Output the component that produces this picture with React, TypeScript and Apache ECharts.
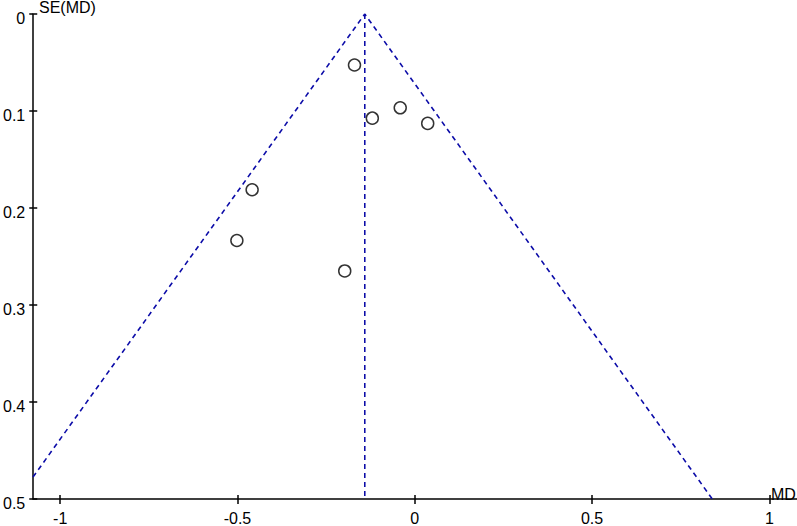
import React, { useEffect, useRef } from "react";
import * as echarts from "echarts";

// Study estimates (mean difference) and their standard errors
const studyMD: number[] = [-0.17, -0.1197, -0.041, 0.0365, -0.4587, -0.5017, -0.1975];
const studySE: number[] = [0.0526, 0.1074, 0.0967, 0.1128, 0.1812, 0.2335, 0.2649];
// Pooled estimate and funnel limits
const pooledMD = -0.141;
const seMax = 0.5;
const zCrit = 1.96;
const xTicks: number[] = [-1, -0.5, 0, 0.5, 1];
const yTicks: number[] = [0, 0.1, 0.2, 0.3, 0.4, 0.5];

const FONT = '"Liberation Sans", Arial, sans-serif';
const BLUE = "#0c0ca8";

export default function App() {
  const ref = useRef<HTMLDivElement>(null);
  useEffect(() => {
    if (!ref.current) return;
    const chart = echarts.init(ref.current, null, { renderer: "svg" });
    const axisLine = { show: true, onZero: false, lineStyle: { color: "#000", width: 1.5 } };
    const dashStyle = { color: BLUE, width: 1.6, type: [5, 4] as any };
    const xBase = {
      type: "value",
      min: -1.076,
      max: 1.078,
      position: "bottom",
      splitLine: { show: false },
    };
    const yBase = {
      type: "value",
      min: 0,
      max: 0.5,
      interval: 0.1,
      inverse: true,
      position: "left",
      splitLine: { show: false },
    };
    chart.setOption({
      animation: false,
      grid: { left: 30, right: 0, top: 14, bottom: 24, containLabel: false },
      xAxis: [
        {
          ...xBase,
          axisLine,
          axisTick: { show: true, inside: false, length: 5, customValues: xTicks, lineStyle: { color: "#000", width: 1.5 } },
          axisLabel: {
            show: true,
            customValues: xTicks,
            color: "#000",
            fontSize: 16,
            fontFamily: FONT,
            margin: 11,
            formatter: (v: number) => String(v),
          },
        },
        {
          ...xBase,
          axisLine: { show: false, onZero: false },
          axisTick: { show: true, inside: true, length: 4, customValues: xTicks, lineStyle: { color: "#000", width: 1.5 } },
          axisLabel: { show: false },
        },
      ],
      yAxis: [
        {
          ...yBase,
          axisLine,
          axisTick: { show: true, inside: false, length: 4, customValues: yTicks, lineStyle: { color: "#000", width: 1.5 } },
          axisLabel: {
            show: true,
            color: "#000",
            fontSize: 16,
            fontFamily: FONT,
            margin: 8,
            verticalAlign: "top",
            lineHeight: 16,
            padding: [-4, 0, 0, 0],
            formatter: (v: number) => String(Math.round(v * 10) / 10),
          },
        },
        {
          ...yBase,
          axisLine: { show: false, onZero: false },
          axisTick: { show: true, inside: true, length: 4, lineStyle: { color: "#000", width: 1.5 } },
          axisLabel: { show: false },
        },
      ],
      series: [
        {
          type: "line",
          xAxisIndex: 0,
          yAxisIndex: 0,
          data: [
            [pooledMD - zCrit * seMax, seMax],
            [pooledMD, 0],
            [pooledMD + zCrit * seMax, seMax],
          ],
          symbol: "none",
          lineStyle: dashStyle,
          clip: true,
          silent: true,
          z: 1,
        },
        {
          type: "line",
          xAxisIndex: 0,
          yAxisIndex: 0,
          data: [
            [pooledMD, 0],
            [pooledMD, seMax],
          ],
          symbol: "none",
          lineStyle: dashStyle,
          clip: true,
          silent: true,
          z: 1,
        },
        {
          type: "scatter",
          xAxisIndex: 0,
          yAxisIndex: 0,
          data: studyMD.map((m, i) => [m, studySE[i]]),
          symbol: "circle",
          symbolSize: 12,
          itemStyle: { color: "#fff", borderColor: "#000", borderWidth: 1.5 },
          z: 3,
        },
      ],
      graphic: [
        {
          type: "text",
          left: 39,
          top: -1,
          style: { text: "SE(MD)", fill: "#000", font: `16px ${FONT}` },
        },
        {
          type: "text",
          left: 771,
          top: 486,
          style: { text: "MD", fill: "#000", font: `16px ${FONT}` },
        },
      ],
    });
    return () => chart.dispose();
  }, []);
  return (
    <div
      ref={ref}
      style={{ position: "absolute", left: 0, top: 0, width: 797, height: 526, background: "#fff" }}
    />
  );
}
